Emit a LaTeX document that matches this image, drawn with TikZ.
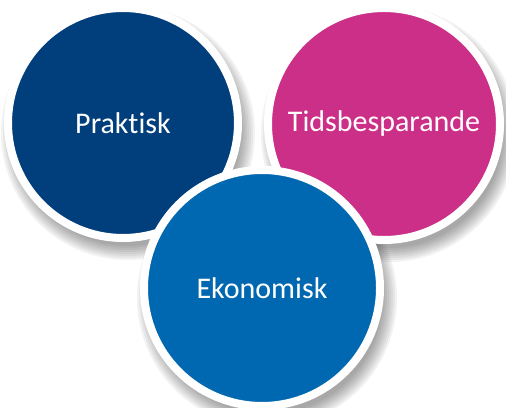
\documentclass[tikz,border=0pt]{standalone}
\usepackage{fontspec}
\setmainfont[Ligatures=NoCommon]{Carlito}
\usetikzlibrary{backgrounds}
\definecolor{darkblue}{HTML}{003E7C}
\definecolor{pinkish}{HTML}{CC2F87}
\definecolor{midblue}{HTML}{0068B0}
\tikzstyle{bubble}=[circle,
                    inner sep=0pt,
                    line width=8pt,
                    draw=white,
                    text=white,
                    font=\fontsize{30}{33}\selectfont]
\begin{document}
\begin{tikzpicture}[x=1pt,y=1pt]
    \useasboundingbox (0,0) rectangle (506,407);
    \node[bubble, fill=darkblue, minimum size=230] (praktisk) at (123,284) {Praktisk};
    \node[bubble, fill=pinkish, minimum size=232] (tids) at (384,283) {Tidsbesparande};
    \node[bubble, fill=midblue, minimum size=236] (ekonomisk) at (262,119) {Ekonomisk};
    % soft shadows behind the bubbles
    \begin{scope}[on background layer]
      \foreach \n/\r in {praktisk/115,tids/116,ekonomisk/118}
        \foreach \d in {0,2,...,14}
          \fill[black,opacity=0.05] ([shift={(5,-10)}]\n.center) circle (\r-2+\d);
    \end{scope}
\end{tikzpicture}
\end{document}
